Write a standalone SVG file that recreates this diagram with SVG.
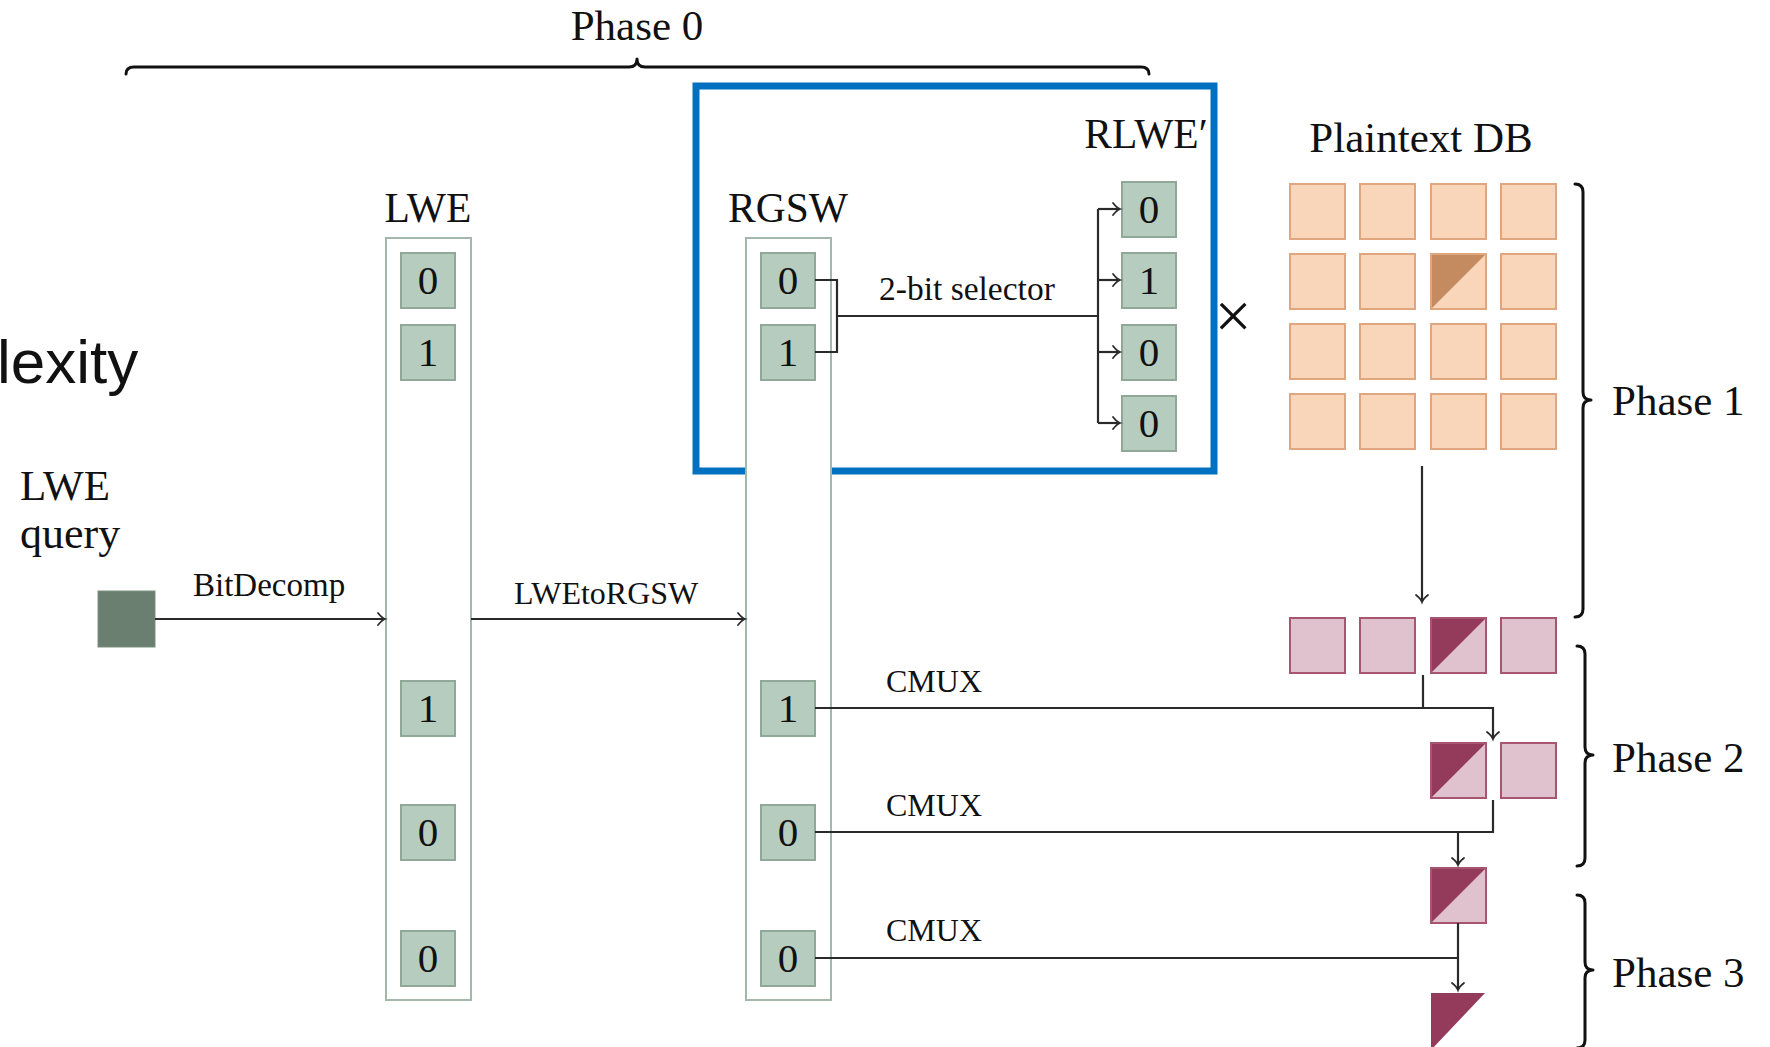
<svg xmlns="http://www.w3.org/2000/svg" width="1770" height="1047" viewBox="0 0 1770 1047">
<style>
  text { font-family: "Liberation Serif", "Times New Roman", serif; fill: #111; }
  .title { font-size: 41.5px; }
  .phase { font-size: 43px; }
  .lbl { font-size: 32px; }
  .digit { font-size: 41px; text-anchor: middle; }
  .col { fill: #ffffff; stroke: #A3B8AA; stroke-width: 2; }
  .cell { fill: #B5CCBE; stroke: #8FA898; stroke-width: 2; }
  .db { fill: #F9D5B9; stroke: #E0A680; stroke-width: 2; }
  .dbdark { fill: #C48A60; }
  .pk { fill: #DFC2CE; stroke: #A8566F; stroke-width: 2; }
  .pkdark { fill: #943B5B; }
  .wire { fill: none; stroke: #2a2a2a; stroke-width: 2.2; }
  .brace { fill: none; stroke: #111111; stroke-width: 3; stroke-linecap: round; stroke-linejoin: round; }
</style>
<defs>
  <marker id="arr" markerUnits="userSpaceOnUse" markerWidth="16" markerHeight="16" viewBox="-10 -8 12 16" refX="0" refY="0" orient="auto">
    <path d="M -7 -6 Q -3 -1 0 0 Q -3 1 -7 6" fill="none" stroke="#2a2a2a" stroke-width="1.8" stroke-linecap="round"/>
  </marker>
</defs>

<rect width="1770" height="1047" fill="#ffffff"/>

<!-- cut-off text -->
<text x="-3" y="383" style="font-family: 'Liberation Sans', Arial, sans-serif; font-size: 62px;">lexity</text>

<!-- Phase 0 brace -->
<g id="phase0">
  <path class="brace" d="M 126 74 Q 126 67 134 67 L 629 67 Q 637 67 637 59 Q 637 67 645 67 L 1141 67 Q 1149 67 1149 74"/>
  <text class="phase" x="637" y="40" text-anchor="middle">Phase 0</text>
</g>

<!-- Highlight box -->
<rect id="highlight" x="696" y="86" width="518" height="385" fill="none" stroke="#0070C0" stroke-width="7"/>

<!-- LWE query -->
<g id="query">
  <text x="20" y="500" style="font-size: 43px;">LWE</text>
  <text x="20" y="548" style="font-size: 44px;">query</text>
  <rect x="98" y="591" width="57" height="56" fill="#6B7F70" stroke="#7D9182" stroke-width="1"/>
</g>

<!-- LWE column -->
<g id="lwe">
  <text class="title" x="428" y="222" text-anchor="middle">LWE</text>
  <rect class="col" x="386" y="238" width="85" height="762"/>
  <rect class="cell" x="401" y="253" width="54" height="55"/>
  <text class="digit" x="428" y="294">0</text>
  <rect class="cell" x="401" y="325" width="54" height="55"/>
  <text class="digit" x="428" y="366">1</text>
  <rect class="cell" x="401" y="681" width="54" height="55"/>
  <text class="digit" x="428" y="722">1</text>
  <rect class="cell" x="401" y="805" width="54" height="55"/>
  <text class="digit" x="428" y="846">0</text>
  <rect class="cell" x="401" y="931" width="54" height="55"/>
  <text class="digit" x="428" y="972">0</text>
</g>

<!-- RGSW column -->
<g id="rgsw">
  <text class="title" x="788" y="222" text-anchor="middle">RGSW</text>
  <rect class="col" x="746" y="238" width="85" height="762"/>
  <rect class="cell" x="761" y="253" width="54" height="55"/>
  <text class="digit" x="788" y="294">0</text>
  <rect class="cell" x="761" y="325" width="54" height="55"/>
  <text class="digit" x="788" y="366">1</text>
  <rect class="cell" x="761" y="681" width="54" height="55"/>
  <text class="digit" x="788" y="722">1</text>
  <rect class="cell" x="761" y="805" width="54" height="55"/>
  <text class="digit" x="788" y="846">0</text>
  <rect class="cell" x="761" y="931" width="54" height="55"/>
  <text class="digit" x="788" y="972">0</text>
</g>

<!-- RLWE' column -->
<g id="rlwe">
  <text class="title" x="1146" y="148" text-anchor="middle">RLWE′</text>
  <rect class="cell" x="1122" y="182" width="54" height="55"/>
  <text class="digit" x="1149" y="223">0</text>
  <rect class="cell" x="1122" y="253" width="54" height="55"/>
  <text class="digit" x="1149" y="294">1</text>
  <rect class="cell" x="1122" y="325" width="54" height="55"/>
  <text class="digit" x="1149" y="366">0</text>
  <rect class="cell" x="1122" y="396" width="54" height="55"/>
  <text class="digit" x="1149" y="437">0</text>
</g>

<text id="times" x="1233" y="338" text-anchor="middle" style="font-size: 66px;">×</text>

<!-- Plaintext DB -->
<g id="db">
  <text class="phase" x="1421" y="152" text-anchor="middle">Plaintext DB</text>
  <rect class="db" x="1290" y="184" width="55" height="55"/>
  <rect class="db" x="1360" y="184" width="55" height="55"/>
  <rect class="db" x="1431" y="184" width="55" height="55"/>
  <rect class="db" x="1501" y="184" width="55" height="55"/>
  <rect class="db" x="1290" y="254" width="55" height="55"/>
  <rect class="db" x="1360" y="254" width="55" height="55"/>
  <rect class="db" x="1431" y="254" width="55" height="55"/>
  <polygon class="dbdark" points="1432,255 1485,255 1432,308"/>
  <rect class="db" x="1501" y="254" width="55" height="55"/>
  <rect class="db" x="1290" y="324" width="55" height="55"/>
  <rect class="db" x="1360" y="324" width="55" height="55"/>
  <rect class="db" x="1431" y="324" width="55" height="55"/>
  <rect class="db" x="1501" y="324" width="55" height="55"/>
  <rect class="db" x="1290" y="394" width="55" height="55"/>
  <rect class="db" x="1360" y="394" width="55" height="55"/>
  <rect class="db" x="1431" y="394" width="55" height="55"/>
  <rect class="db" x="1501" y="394" width="55" height="55"/>
</g>

<!-- Phase 1 result row -->
<g id="row1">
  <rect class="pk" x="1290" y="618" width="55" height="55"/>
  <rect class="pk" x="1360" y="618" width="55" height="55"/>
  <rect class="pk" x="1431" y="618" width="55" height="55"/>
  <polygon class="pkdark" points="1432,619 1485,619 1432,672"/>
  <rect class="pk" x="1501" y="618" width="55" height="55"/>
</g>

<!-- Phase 2 row -->
<g id="row2">
  <rect class="pk" x="1431" y="743" width="55" height="55"/>
  <polygon class="pkdark" points="1432,744 1485,744 1432,797"/>
  <rect class="pk" x="1501" y="743" width="55" height="55"/>
</g>

<!-- Phase 3 row -->
<g id="row3">
  <rect class="pk" x="1431" y="868" width="55" height="55"/>
  <polygon class="pkdark" points="1432,869 1485,869 1432,922"/>
</g>

<!-- Result -->
<polygon id="result" class="pkdark" points="1431,993 1485,993 1431,1050"/>

<!-- Phase braces -->
<g id="phase1">
  <path class="brace" d="M 1575 184 Q 1583 184 1583 192 L 1583 392 Q 1583 400 1591 400 Q 1583 400 1583 408 L 1583 609 Q 1583 617 1575 617"/>
  <text class="phase" x="1612" y="415">Phase 1</text>
</g>
<g id="phase2">
  <path class="brace" d="M 1577 646 Q 1585 646 1585 654 L 1585 747 Q 1585 755 1593 755 Q 1585 755 1585 763 L 1585 858 Q 1585 866 1577 866"/>
  <text class="phase" x="1612" y="772">Phase 2</text>
</g>
<g id="phase3">
  <path class="brace" d="M 1577 895 Q 1585 895 1585 903 L 1585 962 Q 1585 970 1593 970 Q 1585 970 1585 978 L 1585 1040 Q 1585 1048 1577 1048"/>
  <text class="phase" x="1612" y="987">Phase 3</text>
</g>

<!-- Connectors -->
<g id="connectors">
  <line class="wire" x1="155" y1="619" x2="385" y2="619" marker-end="url(#arr)"/>
  <text class="lbl" x="193" y="596" style="font-size: 33px;">BitDecomp</text>
  <line class="wire" x1="471" y1="619" x2="745" y2="619" marker-end="url(#arr)"/>
  <text class="lbl" x="514" y="604">LWEtoRGSW</text>

  <path class="wire" d="M 815 280 H 837 V 352 H 815"/>
  <path class="wire" d="M 837 316 H 1098"/>
  <path class="wire" d="M 1098 209 V 423"/>
  <line class="wire" x1="1098" y1="209" x2="1120" y2="209" marker-end="url(#arr)"/>
  <line class="wire" x1="1098" y1="280" x2="1120" y2="280" marker-end="url(#arr)"/>
  <line class="wire" x1="1098" y1="352" x2="1120" y2="352" marker-end="url(#arr)"/>
  <line class="wire" x1="1098" y1="423" x2="1120" y2="423" marker-end="url(#arr)"/>
  <text class="lbl" x="879" y="300" style="font-size: 33.5px;">2-bit selector</text>

  <line class="wire" x1="1422" y1="466" x2="1422" y2="602" marker-end="url(#arr)"/>

  <path class="wire" d="M 815 708 H 1493 V 739" marker-end="url(#arr)"/>
  <line class="wire" x1="1423" y1="675" x2="1423" y2="708"/>
  <text class="lbl" x="886" y="692">CMUX</text>

  <path class="wire" d="M 815 832 H 1493 V 800"/>
  <line class="wire" x1="1458" y1="832" x2="1458" y2="865" marker-end="url(#arr)"/>
  <text class="lbl" x="886" y="816">CMUX</text>

  <path class="wire" d="M 815 958 H 1458"/>
  <line class="wire" x1="1458" y1="923" x2="1458" y2="990" marker-end="url(#arr)"/>
  <text class="lbl" x="886" y="941">CMUX</text>
</g>
</svg>
